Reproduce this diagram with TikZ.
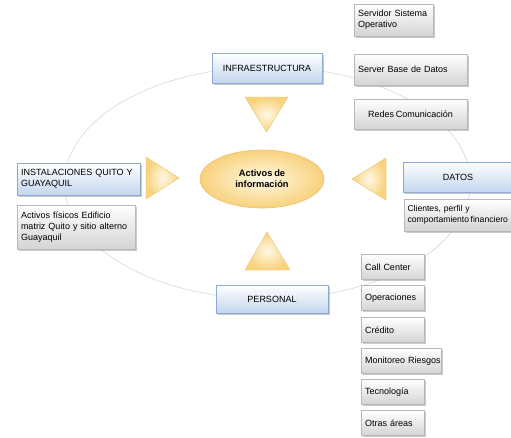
\documentclass[tikz,border=0pt]{standalone}
\usepackage{fontspec}
\setmainfont{Liberation Sans}[WordSpace=0.7]
\usetikzlibrary{shadows,shapes.geometric}
\definecolor{bordblue}{HTML}{8FAAD0}
\definecolor{fillblue}{HTML}{C3D6EE}
\definecolor{detborder}{HTML}{B8B8B8}
\definecolor{detfill}{HTML}{D4D4D4}
\definecolor{goldout}{HTML}{F8D27C}
\definecolor{goldin}{HTML}{FFF8E6}
\definecolor{goldline}{HTML}{E8C36C}
\definecolor{ringgray}{HTML}{D6D6D6}
\begin{document}
\begin{tikzpicture}[x=1pt,y=-1pt,
  every node/.style={font=\fontsize{9}{11}\selectfont, inner sep=3pt},
  boxshadow/.style={drop shadow={shadow xshift=1.5pt, shadow yshift=-1.5pt, opacity=0.35, fill=black!60}},
  mainbox/.style={rectangle, draw=bordblue, line width=0.6pt, top color=white, bottom color=fillblue, boxshadow},
  detbox/.style={rectangle, draw=detborder, line width=0.5pt, top color=white, bottom color=detfill, boxshadow},
  colbox/.style={detbox, minimum width=63pt, minimum height=25pt, text width=55pt, align=left, inner xsep=4pt},
  tri/.style={draw=goldline, line width=0.4pt, inner color=goldin, outer color=goldout},
  core/.style={ellipse, draw=goldline, line width=0.6pt, inner color=goldin, outer color=goldout, minimum width=124pt, minimum height=58pt, align=center, font=\fontsize{9.3}{11}\selectfont\bfseries}
]
\useasboundingbox (0,0) rectangle (511,437);

% surrounding ring
\coordinate (ringc) at (267.5,183);
\draw[ringgray, line width=0.6pt] (ringc) ellipse [x radius=203, y radius=116];

% centre
\node[core] (core) at (262,179) {Activos de\\información};

% arrows (triangles)
\path[tri] (245,97) -- (288,97) -- (266.5,132) -- cycle;
\path[tri] (146,157) -- (179,178) -- (146,199) -- cycle;
\path[tri] (386,158) -- (352,179) -- (386,200) -- cycle;
\path[tri] (245,270) -- (267,232) -- (290,270) -- cycle;

% top group
\node[mainbox, minimum width=110pt, minimum height=30pt] (infra) at (267,68) {INFRAESTRUCTURA};
\node[detbox, text width=71pt, align=left, inner xsep=4pt, minimum height=32pt] (srvso) at (393.5,20) {Servidor Sistema\\Operativo};
\node[detbox, text width=105pt, align=left, inner xsep=4pt, minimum height=31pt] (srvbd) at (410.5,69.5) {Server Base de Datos};
\node[detbox, minimum width=113pt, minimum height=30pt] (redes) at (410.5,114) {Redes Comunicación};

% left group
\node[mainbox, text width=115pt, align=left, inner xsep=4pt, minimum height=32pt] (inst) at (78.5,179) {INSTALACIONES QUITO Y\\GUAYAQUIL};
\node[detbox, text width=110pt, align=left, inner xsep=4pt, minimum height=44pt] (fis) at (76,227) {Activos físicos Edificio\\matriz Quito y sitio alterno\\Guayaquil};

% right group
\node[mainbox, minimum width=110pt, minimum height=30pt] (datos) at (458,177) {DATOS};
\node[detbox, text width=105pt, align=left, inner xsep=3pt, minimum height=32pt, font=\fontsize{8.6}{11}\selectfont] (cli) at (460,215) {Clientes, perfil y\\\mbox{comportamiento\hspace{1.5pt}financiero}};

% bottom group
\node[mainbox, minimum width=112pt, minimum height=28pt] (pers) at (272,299) {PERSONAL};
\node[colbox] (cc) at (392.5,267) {Call Center};
\node[colbox] (ope) at (392.5,298) {Operaciones};
\node[colbox] (cre) at (392.5,330) {Crédito};
\node[colbox, minimum width=80pt, text width=72pt] (mon) at (401,361) {\mbox{Monitoreo Riesgos}};
\node[colbox] (tec) at (392.5,392) {Tecnología};
\node[colbox] (otr) at (392.5,423) {Otras áreas};
\end{tikzpicture}
\end{document}
